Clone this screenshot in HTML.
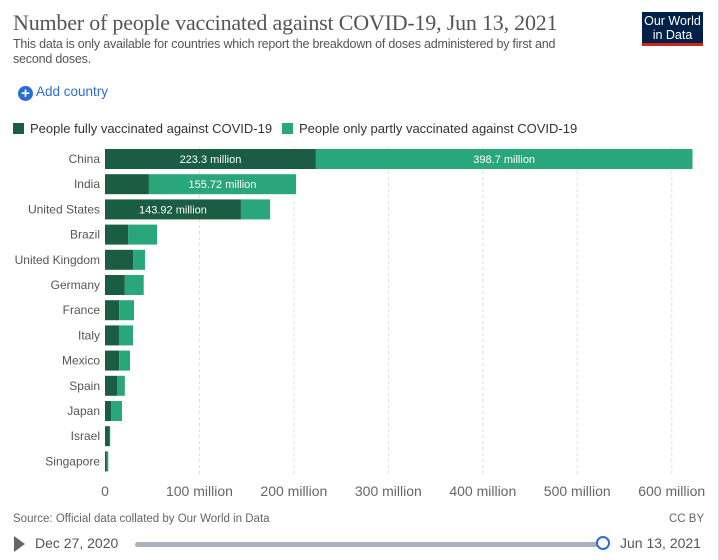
<!DOCTYPE html>
<html><head><meta charset="utf-8"><style>
body{margin:0;background:#fff;font-family:"Liberation Sans",sans-serif;}
#wrap{position:relative;width:719px;height:560px;overflow:hidden;border-right:1px solid #ddd;box-sizing:border-box}
.t{position:absolute;white-space:nowrap}
</style></head><body>
<div id="wrap">
<div class="t" style="left:13px;top:10px;font-family:'Liberation Serif',serif;font-size:22px;color:#555;letter-spacing:-0.2px">Number of people vaccinated against COVID-19, Jun 13, 2021</div>
<div class="t" style="left:13px;top:37px;font-size:12.5px;color:#555;line-height:15px;white-space:normal;width:575px;letter-spacing:-0.2px">This data is only available for countries which report the breakdown of doses administered by first and second doses.</div>
<div class="t" style="left:642px;top:12px;width:61px;height:34px;background:#002147;border-bottom:3px solid #ce261e;color:#fff;font-size:12.5px;line-height:14px;text-align:center;padding-top:2px;box-sizing:border-box">Our World<br>in Data</div>
<div class="t" style="left:18px;top:84px;font-size:13.5px;color:#2a6ed4"><span style="display:inline-block;width:15px;height:15px;border-radius:50%;background:#2a6ed4;color:#fff;text-align:center;line-height:15px;font-weight:bold;font-size:15px;vertical-align:-2px">+</span> Add country</div>
<div class="t" style="left:13px;top:121px;font-size:13px;color:#333"><span style="display:inline-block;width:11px;height:11px;background:#1a5c44;vertical-align:-1px;margin-right:6px"></span>People fully vaccinated against COVID-19</div>
<div class="t" style="left:282px;top:121px;font-size:13px;color:#333"><span style="display:inline-block;width:11px;height:11px;background:#2aa67c;vertical-align:-1px;margin-right:6px"></span>People only partly vaccinated against COVID-19</div>
<svg id="chart" width="719" height="560" style="position:absolute;left:0;top:0"></svg>
<div class="t" style="left:13px;top:513px;font-size:11.5px;color:#666">Source: Official data collated by Our World in Data</div>
<div class="t" style="left:669px;top:513px;font-size:11.5px;color:#666">CC BY</div>
<div class="t" style="left:14px;top:536px;width:0;height:0;border-left:11px solid #666;border-top:8px solid transparent;border-bottom:8px solid transparent"></div>
<div class="t" style="left:35px;top:535px;font-size:14px;color:#555">Dec 27, 2020</div>
<div class="t" style="left:135px;top:542px;width:468px;height:5px;background:#a9b1bd;border-radius:3px"></div>
<div class="t" style="left:596px;top:536px;width:14px;height:14px;border:2px solid #2a6ed4;border-radius:50%;background:#fff;box-sizing:border-box"></div>
<div class="t" style="left:620px;top:535px;font-size:14px;color:#555">Jun 13, 2021</div>
</div>
<script>
const countries=["China","India","United States","Brazil","United Kingdom","Germany","France","Italy","Mexico","Spain","Japan","Israel","Singapore"];
const fully=[223.3,46.5,143.92,24.4,29.7,21,15,14.8,15,12.7,6.4,5.1,2];
const partly=[398.7,155.72,30.9,30.7,12.7,20,15.7,14.9,11.5,8.3,11.6,0.4,1.5];
const fullyLabels=["223.3 million","","143.92 million","","","","","","","","","",""];
const partlyLabels=["398.7 million","155.72 million","","","","","","","","","","",""];
const ticks=[0,100,200,300,400,500,600];
const tickLabels=["0","100 million","200 million","300 million","400 million","500 million","600 million"];
const svg=document.getElementById('chart');const NS="http://www.w3.org/2000/svg";
const x=v=>105+v*0.9445; const y=i=>149+i*25.2;
function mk(t,a){const e=document.createElementNS(NS,t);for(const k in a)e.setAttribute(k,a[k]);svg.appendChild(e);return e;}
ticks.forEach((t,i)=>{
 if(t>0){const l=mk('line',{x1:x(t),x2:x(t),y1:147,y2:476,stroke:'#ddd','stroke-dasharray':'3,3'});
 
 }
 const tx=mk('text',{x:x(t),y:496,'text-anchor':'middle','font-size':14,fill:'#666'});tx.textContent=tickLabels[i];
 
 
});
countries.forEach((c,i)=>{
 const lb=mk('text',{x:100,y:y(i)+14,'text-anchor':'end','font-size':12,fill:'#555'});lb.textContent=c;
 
 
 const b1=mk('rect',{x:x(0),y:y(i),width:x(fully[i])-x(0),height:20,fill:'#1a5c44'});
 
 
 const b2=mk('rect',{x:x(fully[i]),y:y(i),width:x(fully[i]+partly[i])-x(fully[i]),height:20,fill:'#2aa67c'});
 
 
 if(fullyLabels[i]){const t=mk('text',{x:(x(0)+x(fully[i]))/2,y:y(i)+14,'text-anchor':'middle','font-size':11,fill:'#fff'});t.textContent=fullyLabels[i];
 
 }
 if(partlyLabels[i]){const t=mk('text',{x:(x(fully[i])+x(fully[i]+partly[i]))/2,y:y(i)+14,'text-anchor':'middle','font-size':11,fill:'#fff'});t.textContent=partlyLabels[i];
 
 }
});
</script>
</body></html>
